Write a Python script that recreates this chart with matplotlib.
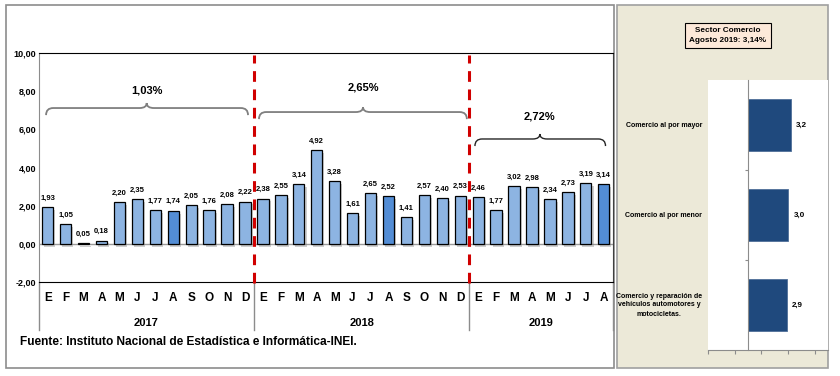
import matplotlib
matplotlib.use("Agg")
import matplotlib.pyplot as plt
from matplotlib import font_manager
from matplotlib.patches import Rectangle, PathPatch
from matplotlib.path import Path
from matplotlib.transforms import blended_transform_factory
import matplotlib.patheffects as pe

names = {f.name for f in font_manager.fontManager.ttflist}
NARROW = "Liberation Sans Narrow" in names
plt.rcParams['font.family'] = ['Liberation Sans Narrow' if NARROW else 'Liberation Sans', 'DejaVu Sans']

# monthly variation (%) Jan 2017 - Aug 2019
months = ["E", "F", "M", "A", "M", "J", "J", "A", "S", "O", "N", "D"] * 2 + ["E", "F", "M", "A", "M", "J", "J", "A"]
values = [1.93, 1.05, 0.05, 0.18, 2.20, 2.35, 1.77, 1.74, 2.05, 1.76, 2.08, 2.22,
          2.38, 2.55, 3.14, 4.92, 3.28, 1.61, 2.65, 2.52, 1.41, 2.57, 2.40, 2.53,
          2.46, 1.77, 3.02, 2.98, 2.34, 2.73, 3.19, 3.14]
years = ["2017", "2018", "2019"]
year_avg = ["1,03%", "2,65%", "2,72%"]
yticks = [-2, 0, 2, 4, 6, 8, 10]

sectors = ["Comercio al por mayor", "Comercio al por menor",
           "Comercio y reparación de\nvehículos automotores y\nmotocicletas."]
sector_vals = [3.2, 3.0, 2.9]

W, H = 840, 376
fig = plt.figure(figsize=(W / 100, H / 100), dpi=100)

def px(x0, y0, x1, y1):
    # pixel box (top-left origin) -> figure fraction rect
    return [x0 / W, (H - y1) / H, (x1 - x0) / W, (y1 - y0) / H]

# panel frames
fig.patches.append(Rectangle((6 / W, (H - 368) / H), 608 / W, 363 / H, transform=fig.transFigure,
                             facecolor="white", edgecolor="#8c8c8c", lw=1.2, zorder=-10))
fig.patches.append(Rectangle((617 / W, (H - 368) / H), 211 / W, 363 / H, transform=fig.transFigure,
                             facecolor="#ECE9D8", edgecolor="#a0a0a0", lw=1.2, zorder=-10))

# ---------------- left chart ----------------
ax = fig.add_axes(px(38.7, 53, 612.7, 282.3))
ax.set_facecolor("none")
x = list(range(len(values)))
colors = ["#538DD5" if (i % 12) == 7 else "#8DB4E2" for i in x]
bars = ax.bar(x, values, width=0.63, color=colors, edgecolor="black", linewidth=0.9, zorder=3)
for b in bars:
    b.set_path_effects([pe.SimplePatchShadow(offset=(1.5, -2), shadow_rgbFace="#777777", alpha=0.35), pe.Normal()])
ax.axhline(0, color="#9a9a9a", lw=1, zorder=2)

for xi, v in zip(x, values):
    ax.annotate(f"{v:.2f}".replace(".", ","), (xi, v), xytext=(0, 4), textcoords="offset points",
                ha="center", va="bottom", fontsize=5.5, fontweight="bold")

ax.set_xlim(-0.5, len(values) - 0.5)
ax.set_ylim(-2, 10)
ax.set_yticks(yticks)
ax.set_yticklabels([f"{t:.2f}".replace(".", ",") for t in yticks], fontsize=6.5, fontweight="bold")
ax.set_xticks(x)
ax.set_xticklabels(months, fontsize=8.5, fontweight="bold")
ax.tick_params(axis="both", length=0)
ax.tick_params(axis="y", pad=2)
ax.tick_params(axis="x", pad=7)
ax.spines["top"].set_color("black")
ax.spines["bottom"].set_color("black")
ax.spines["left"].set_color("#8c8c8c")
ax.spines["right"].set_color("#404040")

# red dashed separators between years
for xs in [11.5, 23.5]:
    ax.plot([xs, xs], [-2.05, 9.9], color="#D00000", lw=2.2, ls=(0, (3.5, 2.5)), zorder=4, clip_on=False)

# year group lines and labels under the axis
bt = blended_transform_factory(ax.transData, ax.transAxes)
for xs in [-0.5, 11.5, 23.5, 31.5]:
    ax.plot([xs, xs], [0, -0.208], transform=bt, color="#8c8c8c", lw=1, clip_on=False)
for i, yr in enumerate(years):
    start = i * 12 - 0.5
    end = min(start + 12, len(values) - 0.5)
    ax.text((start + end) / 2, -0.177, yr, transform=bt, ha="center", va="center",
            fontsize=8, fontweight="bold")

def brace(x0, x1, xm, y, h, p, dx, color, lw):
    verts = [(x0, y - h), (x0, y), (x0 + dx, y), (xm - dx, y), (xm, y), (xm, y + p),
             (xm, y), (xm + dx, y), (x1 - dx, y), (x1, y), (x1, y - h)]
    codes = [Path.MOVETO, Path.CURVE3, Path.CURVE3, Path.LINETO, Path.CURVE3, Path.CURVE3,
             Path.CURVE3, Path.CURVE3, Path.LINETO, Path.CURVE3, Path.CURVE3]
    ax.add_patch(PathPatch(Path(verts, codes), facecolor="none", edgecolor=color, lw=lw, zorder=4))

brace(-0.09, 11.17, 5.52, 7.12, 0.37, 0.26, 0.4, "#7f7f7f", 1.3)
brace(11.78, 23.37, 17.58, 6.91, 0.37, 0.26, 0.4, "#7f7f7f", 1.3)
brace(23.82, 31.1, 27.44, 5.50, 0.37, 0.26, 0.4, "#262626", 1.0)
for xt, yt, lab in [(5.52, 8.06, year_avg[0]), (17.58, 8.17, year_avg[1]), (27.44, 6.70, year_avg[2])]:
    ax.text(xt, yt, lab, ha="center", va="center", fontsize=8, fontweight="bold")

fig.text(20 / W, (H - 342) / H, "Fuente: Instituto Nacional de Estadística e Informática-INEI.",
         ha="left", va="center", fontsize=9.5 if NARROW else 8.6, fontweight="bold")

# ---------------- right chart ----------------
ax2 = fig.add_axes(px(708, 80, 828, 350))
ax2.set_facecolor("white")
yy = list(range(len(sectors)))
ax2.barh(yy, sector_vals, height=0.58, color="#1F497D", edgecolor="#4f6f99", linewidth=0.6)
ax2.set_ylim(2.5, -0.5)
ax2.set_xlim(-3, 6)
for yi, v in zip(yy, sector_vals):
    ax2.annotate(f"{v:.1f}".replace(".", ","), (v, yi), xytext=(4, 0), textcoords="offset points",
                 ha="left", va="center", fontsize=5.8, fontweight="bold")
ax2.spines["left"].set_position(("data", 0))
ax2.spines["left"].set_color("#8c8c8c")
ax2.spines["bottom"].set_color("#8c8c8c")
ax2.spines["top"].set_visible(False)
ax2.spines["right"].set_visible(False)
ax2.set_xticks([-3, -1, 1, 3, 5])
ax2.set_xticklabels([])
ax2.tick_params(axis="x", length=3, color="#8c8c8c")
ax2.set_yticks([0.5, 1.5])
ax2.set_yticklabels([])
ax2.tick_params(axis="y", length=2.5, color="#8c8c8c")
bt2 = blended_transform_factory(ax2.transAxes, ax2.transData)
for yi, s in zip(yy, sectors):
    ax2.text(-0.05, yi, s, transform=bt2, ha="right", va="center", multialignment="center",
             fontsize=5.0, fontweight="bold", linespacing=1.4)

fig.text(728 / W, (H - 35.5) / H, "Sector Comercio\nAgosto 2019: 3,14%", ha="center", va="center",
         fontsize=5.9, fontweight="bold", linespacing=1.5,
         bbox=dict(boxstyle="square,pad=0.5", facecolor="#FDE9D9", edgecolor="black", lw=0.8))

fig.savefig("out.png", dpi=100)
